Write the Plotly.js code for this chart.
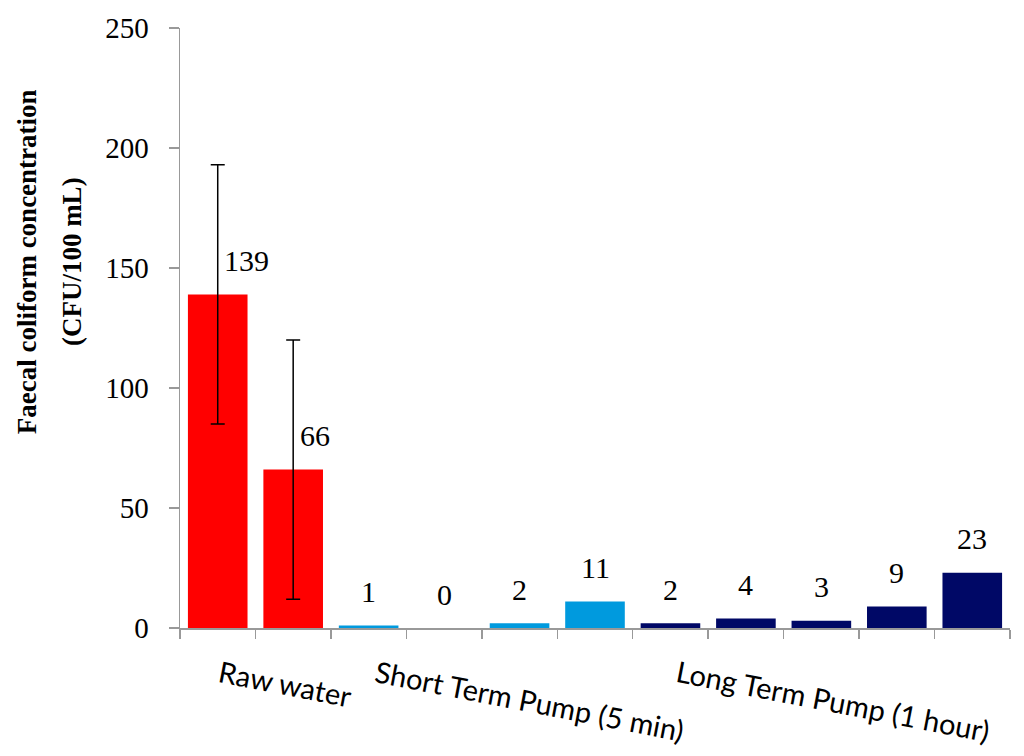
<!DOCTYPE html>
<html>
<head>
<meta charset="utf-8">
<script src="https://cdn.plot.ly/plotly-3.0.1.min.js"></script>
<style>
  html, body { margin: 0; padding: 0; background: #fff; }
  #chart { width: 1024px; height: 756px; }
</style>
</head>
<body>
<div id="chart"></div>
<script>
// values
var rawCats = ['R1', 'R2'];
var rawVals = [139, 66];
var rawErr = [54, 54];

var shortCats = ['S1', 'S2', 'S3', 'S4'];
var shortVals = [1, 0, 2, 11];

var longCats = ['L1', 'L2', 'L3', 'L4', 'L5'];
var longVals = [2, 4, 3, 9, 23];

var groupLabels = ['Raw water', 'Short Term Pump (5 min)', 'Long Term Pump (1 hour)'];
var yTitleLines = ['<b>Faecal coliform concentration</b>', '<b>(CFU/100 mL)</b>'];

try {
  var allCats = rawCats.concat(shortCats, longCats);
  var allVals = rawVals.concat(shortVals, longVals);

  var trRaw = {
    type: 'bar', x: rawCats, y: rawVals,
    marker: { color: '#ff0000' },
    error_y: { type: 'data', array: rawErr, visible: true, color: '#000', thickness: 1.5, width: 7 },
    hoverinfo: 'y'
  };
  var trShort = {
    type: 'bar', x: shortCats, y: shortVals,
    marker: { color: '#009ade' },
    hoverinfo: 'y'
  };
  var trLong = {
    type: 'bar', x: longCats, y: longVals,
    marker: { color: '#000866' },
    hoverinfo: 'y'
  };

  // value labels sit above each bar; the two raw-water ones are nudged right of the error bar
  var labelShift = { 'R1': 29, 'R2': 22 };
  var annos = allCats.map(function (c, i) {
    return {
      x: c, y: allVals[i], xref: 'x', yref: 'y',
      text: String(allVals[i]), showarrow: false,
      yshift: 34, xshift: labelShift[c] || 0,
      font: { family: 'Liberation Serif, serif', size: 30, color: '#000' }
    };
  });

  // slanted group names under the axis
  var groupPos = [[0.904, -0.092], [4.14, -0.12], [8.15, -0.12]];
  groupLabels.forEach(function (g, i) {
    annos.push({
      x: groupPos[i][0], y: groupPos[i][1], xref: 'x', yref: 'paper',
      xanchor: 'center', yanchor: 'middle',
      text: g, showarrow: false, textangle: 11,
      font: { family: 'Lato, sans-serif', size: 29, color: '#000' }
    });
  });

  // y title drawn as two rotated lines (it sits above the plot middle in the original)
  var titleX = [-0.184, -0.130];
  yTitleLines.forEach(function (t, i) {
    annos.push({
      x: titleX[i], y: 0.61, xref: 'paper', yref: 'paper',
      xanchor: 'center', yanchor: 'middle',
      text: t, showarrow: false, textangle: -90,
      font: { family: 'Liberation Serif, serif', size: 27, color: '#000' }
    });
  });

  var layout = {
    width: 1024, height: 756,
    margin: { l: 180, r: 14, t: 28, b: 128 },
    paper_bgcolor: '#fff', plot_bgcolor: '#fff',
    barmode: 'overlay', bargap: 0.21,
    showlegend: false,
    xaxis: {
      type: 'category', categoryorder: 'array', categoryarray: allCats,
      range: [-0.5, allCats.length - 0.5],
      showticklabels: false, tickson: 'boundaries',
      ticks: 'outside', ticklen: 9, tickcolor: '#999', tickwidth: 1.5,
      showline: true, linecolor: '#999', linewidth: 1.5,
      showgrid: false, zeroline: false
    },
    yaxis: {
      range: [0, 250], dtick: 50,
      ticks: 'outside', ticklen: 10, tickcolor: '#999', tickwidth: 1.5,
      ticklabelstandoff: 14,
      showline: true, linecolor: '#999', linewidth: 1.5,
      showgrid: false, zeroline: false,
      tickfont: { family: 'Liberation Serif, serif', size: 29, color: '#000' }
    },
    annotations: annos
  };

  Plotly.newPlot('chart', [trRaw, trShort, trLong], layout, { displayModeBar: false, staticPlot: true });
} catch (e) {
  console.log('failed');
  console.log(e);
}
</script>
</body>
</html>
